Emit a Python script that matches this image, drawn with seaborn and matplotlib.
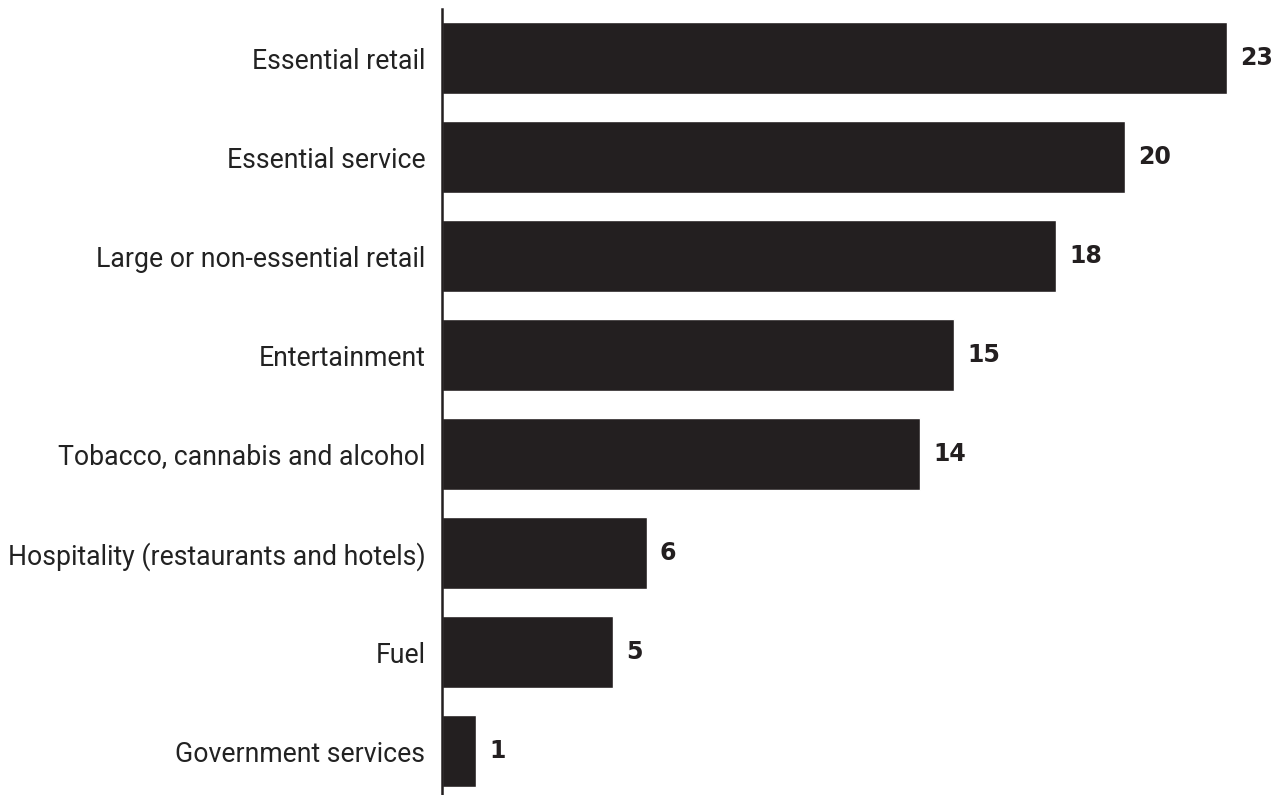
import matplotlib
matplotlib.use("Agg")
import matplotlib.pyplot as plt
import seaborn as sns
import pandas as pd

categories = ["Essential retail", "Essential service", "Large or non-essential retail",
              "Entertainment", "Tobacco, cannabis and alcohol",
              "Hospitality (restaurants and hotels)", "Fuel", "Government services"]
values = [23, 20, 18, 15, 14, 6, 5, 1]

df = pd.DataFrame({"category": categories, "value": values})

sns.set_theme(style="white")
plt.rcParams['font.family'] = ['Roboto', 'DejaVu Sans']

dark = "#231f20"
fig = plt.figure(figsize=(12.83, 7.95), dpi=100)
ax = fig.add_axes([442/1283, 0.0, 1 - 442/1283, 1 - 9/795])

sns.barplot(data=df, x="value", y="category", orient="h", color=dark,
            saturation=1, width=0.727, ax=ax)

ax.set_xlim(0, 24.64)
ax.set_ylim(7.444, -0.495)
for s in ["top", "right", "bottom"]:
    ax.spines[s].set_visible(False)
ax.spines["left"].set_color(dark)
ax.spines["left"].set_linewidth(1.8)
ax.set_xticks([])
ax.set_xlabel("")
ax.set_ylabel("")
ax.tick_params(axis="y", length=0, pad=12, labelsize=19.2, labelcolor="#222222")

for i, v in enumerate(values):
    ax.annotate(str(v), xy=(v, i), xytext=(9.5, 0), textcoords="offset points",
                va="center", ha="left", fontsize=17, fontweight="bold",
                color=dark, family=["DejaVu Sans"])

fig.savefig("out.png", dpi=100)
